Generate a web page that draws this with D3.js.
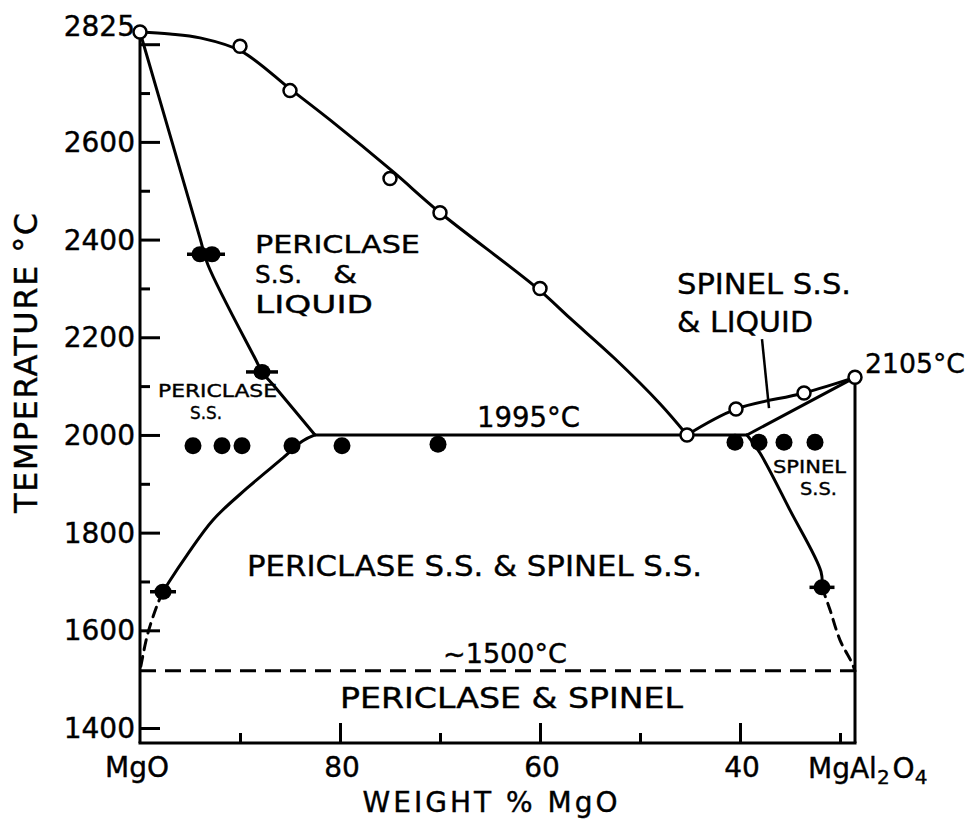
<!DOCTYPE html>
<html>
<head>
<meta charset="utf-8">
<script src="https://cdn.jsdelivr.net/npm/d3@7"></script>
<style>
body{margin:0;background:#fff;}
text{font-family:"DejaVu Sans",sans-serif;fill:#000;stroke:#000;stroke-width:0.4px;}
</style>
</head>
<body>
<svg id="svg" width="971" height="824"></svg>
<script>
// wt% MgO, temperature in C
var liquidusPts=[[100,2825],[90,2796],[85,2705],[75,2525],[70,2455],[60,2300],[45.3,2000],[40.4,2053],[33.6,2086],[28.5,2118]];
var liquidusCurve=[[100,2825],[97,2821],[94,2813],[89.9,2786],[84.9,2707],[81,2645],[74.7,2539],[70.1,2457],[60.2,2299],[57,2239],[52.5,2156],[48,2064],[45.3,2000]];
var spinelLiquidus=[[45.3,2000],[40.4,2053],[33.6,2086],[28.5,2118]];
var spinelSolidus=[[39.3,2000],[28.5,2118]];
var pericSolidus=[[100,2825],[96.8,2600],[94,2403],[93.2,2348],[88.4,2153],[87.8,2129],[86.5,2098],[82.5,2000]];
var eutectic=[[82.5,2000],[39.3,2000]];
var pericSolvus=[[82.5,2000],[83.7,1988],[85.7,1953],[89.3,1891],[92.7,1826],[95.3,1754],[97.1,1699],[97.7,1679]];
var pericSolvusDash=[[97.7,1679],[98.2,1656],[99.2,1595],[99.8,1539],[100,1517]];
var spinelSolvus=[[39.3,2000],[38,1963],[35,1846],[31.9,1720],[31.8,1688]];
var spinelSolvusDash=[[31.8,1688],[31,1642],[30,1580],[28.8,1533],[28.5,1517]];
var lowLine=[[100,1517],[28.5,1517]];
var leader=[[37.8,2196],[37.1,2055]];
var filledPts=[[94.7,1978],[91.8,1978],[89.8,1978],[84.8,1978],[79.8,1978],[70.2,1981],[40.5,1985],[38.1,1985],[35.6,1985],[32.5,1985]];
var barPts=[[94,2370],[92.8,2370],[87.8,2129],[97.7,1679],[31.8,1688]];
var barW=[[93.4,2370,1.9],[87.8,2129,1.6],[97.7,1679,1.3],[31.8,1688,1.25]];
var xMajor=[80,60,40];
var xMinor=[90,70,50,30];
var yMajor=[1400,1600,1800,2000,2200,2400,2600,2800];
var yMinor=[1700,1900,2100,2300,2500,2700];
var yLabels=[1400,1600,1800,2000,2200,2400,2600];

var svg=d3.select('#svg');
var x=d3.scaleLinear().domain([100,28.5]).range([140,855]);
var y=d3.scaleLinear().domain([1369.3,2825]).range([743,32]);

var line=d3.line().x(function(d){return x(d[0]);}).y(function(d){return y(d[1]);});
var smooth=d3.line().curve(d3.curveCatmullRom).x(function(d){return x(d[0]);}).y(function(d){return y(d[1]);});

// axis ticks (inward)
svg.append('g').attr('transform','translate('+x(100)+',0)')
    .call(d3.axisRight(y).tickValues(yMajor).tickSize(20).tickFormat(''));
svg.append('g').attr('transform','translate('+x(100)+',0)')
    .call(d3.axisRight(y).tickValues(yMinor).tickSize(10).tickFormat(''));
svg.append('g').attr('transform','translate(0,'+y(1369.3)+')')
    .call(d3.axisTop(x).tickValues(xMajor).tickSize(20).tickFormat(''));
svg.append('g').attr('transform','translate(0,'+y(1369.3)+')')
    .call(d3.axisTop(x).tickValues(xMinor).tickSize(10).tickFormat(''));
svg.selectAll('.domain').remove();
svg.selectAll('.tick line').attr('stroke','#000').attr('stroke-width',3);

// frame
svg.append('line').attr('x1',x(100)).attr('x2',x(100)).attr('y1',y(2825)).attr('y2',y(1369.3))
    .attr('stroke','#000').attr('stroke-width',3);
svg.append('line').attr('x1',x(100)-1.5).attr('x2',x(28.5)+1.5).attr('y1',y(1369.3)).attr('y2',y(1369.3))
    .attr('stroke','#000').attr('stroke-width',3);
svg.append('line').attr('x1',x(28.5)).attr('x2',x(28.5)).attr('y1',y(2118)).attr('y2',y(1369.3))
    .attr('stroke','#000').attr('stroke-width',3);

// tick labels
svg.selectAll('.ylab').data(yLabels).enter().append('text')
    .attr('x',135).attr('y',function(d){return y(d);}).attr('dy','0.36em')
    .attr('text-anchor','end').attr('font-size',28).text(function(d){return d;});
svg.append('text').attr('x',135).attr('y',y(2825)-6).attr('dy','0.36em')
    .attr('text-anchor','end').attr('font-size',28).text('2825');
svg.selectAll('.xlab').data(xMajor).enter().append('text')
    .attr('x',function(d){return x(d)+2;}).attr('y',777)
    .attr('text-anchor','middle').attr('font-size',28).text(function(d){return d;});
svg.append('text').attr('x',x(100)-3).attr('y',777).attr('text-anchor','middle').attr('font-size',28).text('MgO');
var sp=svg.append('text').attr('x',808).attr('y',778).attr('font-size',28);
sp.append('tspan').text('MgAl');
sp.append('tspan').attr('font-size',20).attr('dy',6).text('2');
sp.append('tspan').attr('dy',-6).attr('dx',3).text('O');
sp.append('tspan').attr('font-size',20).attr('dy',6).text('4');

// axis titles
svg.append('text').attr('x',490).attr('y',812).attr('text-anchor','middle').attr('font-size',28)
    .attr('textLength',255).attr('lengthAdjust','spacing').text('WEIGHT % MgO');
svg.append('text').attr('transform','translate(37,363) rotate(-90)').attr('text-anchor','middle')
    .attr('font-size',32).attr('textLength',300).attr('lengthAdjust','spacing').text('TEMPERATURE °C');

// phase boundaries
function path(d,dash){
    return svg.append('path').datum(d).attr('d',smooth).attr('fill','none').attr('stroke','#000')
        .attr('stroke-width',3).attr('stroke-linecap','round').attr('stroke-dasharray',dash||null);
}
path(liquidusCurve);
path(spinelLiquidus);
path(pericSolidus);
path(pericSolvus);
path(pericSolvusDash,'10,7');
path(spinelSolvus);
path(spinelSolvusDash,'10,7');
svg.append('path').datum(spinelSolidus).attr('d',line).attr('fill','none').attr('stroke','#000').attr('stroke-width',3);
svg.append('path').datum(eutectic).attr('d',line).attr('fill','none').attr('stroke','#000').attr('stroke-width',3);
svg.append('path').datum(lowLine).attr('d',line).attr('fill','none').attr('stroke','#000').attr('stroke-width',3)
    .attr('stroke-dasharray','16,9');
svg.append('path').datum(leader).attr('d',line).attr('fill','none').attr('stroke','#000').attr('stroke-width',2.5);

// data points
svg.selectAll('.bar').data(barW).enter().append('line')
    .attr('x1',function(d){return x(d[0]+d[2]);}).attr('x2',function(d){return x(d[0]-d[2]);})
    .attr('y1',function(d){return y(d[1]);}).attr('y2',function(d){return y(d[1]);})
    .attr('stroke','#000').attr('stroke-width',3.5);
svg.selectAll('.bp').data(barPts).enter().append('ellipse')
    .attr('cx',function(d){return x(d[0]);}).attr('cy',function(d){return y(d[1]);})
    .attr('rx',8.5).attr('ry',8).attr('fill','#000');
svg.selectAll('.fp').data(filledPts).enter().append('circle')
    .attr('cx',function(d){return x(d[0]);}).attr('cy',function(d){return y(d[1]);})
    .attr('r',8.5).attr('fill','#000');
svg.selectAll('.op').data(liquidusPts).enter().append('circle')
    .attr('cx',function(d){return x(d[0]);}).attr('cy',function(d){return y(d[1]);})
    .attr('r',6.5).attr('fill','#fff').attr('stroke','#000').attr('stroke-width',2.5);

// region labels
function label(t,px,py,size,len){
    var el=svg.append('text').attr('x',px).attr('y',py).attr('font-size',size).text(t);
    if(len){el.attr('textLength',len).attr('lengthAdjust','spacingAndGlyphs');}
    return el;
}
label('PERICLASE',255,253,25.5,165);
label('S.S.',255,283,25.5,47);
label('&',333,283,25.5,24);
label('LIQUID',255,313,25.5,118);
label('PERICLASE',158,397,18,119);
label('S.S.',190,419,18,32);
label('1995°C',477,427,28,103);
label('SPINEL S.S.',677,294,29,174);
label('& LIQUID',677,332,29,136);
label('2105°C',865,373,27,100);
label('SPINEL',773,473,18.5,73);
label('S.S.',800,495,18.5,37);
label('PERICLASE S.S. & SPINEL S.S.',247,576,29,455);
label('~1500°C',443,663,26,124);
label('PERICLASE & SPINEL',340,708,28,343);
</script>
</body>
</html>
